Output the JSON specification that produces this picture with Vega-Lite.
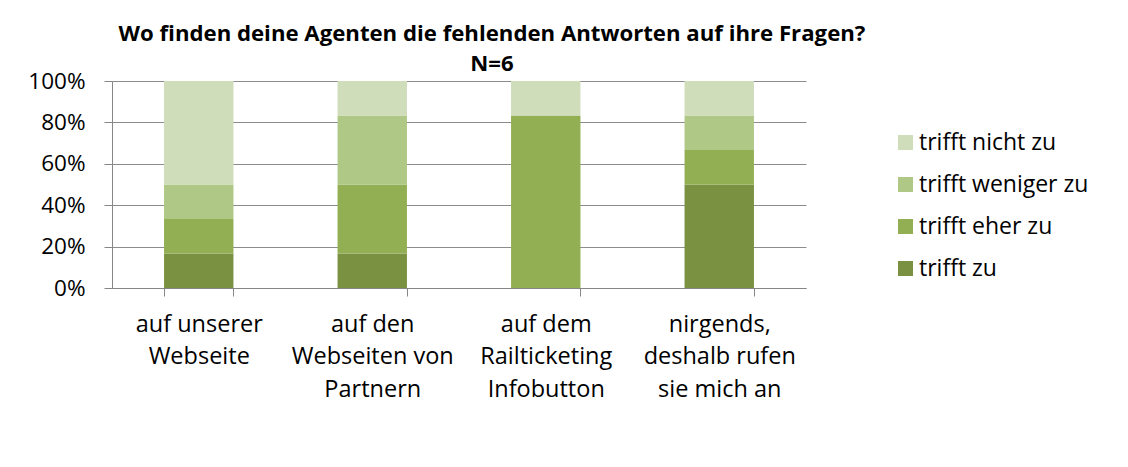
{
  "$schema": "https://vega.github.io/schema/vega-lite/v6.json",
  "width": 694,
  "height": 207,
  "autosize": {"type": "none"},
  "padding": {"left": 112, "top": 81, "right": 322, "bottom": 179},
  "background": "white",
  "title": {
    "text": ["Wo finden deine Agenten die fehlenden Antworten auf ihre Fragen?", "N=6"],
    "anchor": "middle",
    "dx": 33,
    "offset": -5,
    "font": "Open Sans",
    "fontSize": 22.2,
    "fontWeight": "bold",
    "lineHeight": 30,
    "color": "#000000"
  },
  "data": {
    "values": [
      {"kategorie": "auf unserer Webseite", "bewertung": "trifft zu", "stufe": 1, "anzahl": 1},
      {"kategorie": "auf unserer Webseite", "bewertung": "trifft eher zu", "stufe": 2, "anzahl": 1},
      {"kategorie": "auf unserer Webseite", "bewertung": "trifft weniger zu", "stufe": 3, "anzahl": 1},
      {"kategorie": "auf unserer Webseite", "bewertung": "trifft nicht zu", "stufe": 4, "anzahl": 3},
      {"kategorie": "auf den Webseiten von Partnern", "bewertung": "trifft zu", "stufe": 1, "anzahl": 1},
      {"kategorie": "auf den Webseiten von Partnern", "bewertung": "trifft eher zu", "stufe": 2, "anzahl": 2},
      {"kategorie": "auf den Webseiten von Partnern", "bewertung": "trifft weniger zu", "stufe": 3, "anzahl": 2},
      {"kategorie": "auf den Webseiten von Partnern", "bewertung": "trifft nicht zu", "stufe": 4, "anzahl": 1},
      {"kategorie": "auf dem Railticketing Infobutton", "bewertung": "trifft eher zu", "stufe": 2, "anzahl": 5},
      {"kategorie": "auf dem Railticketing Infobutton", "bewertung": "trifft nicht zu", "stufe": 4, "anzahl": 1},
      {"kategorie": "nirgends, deshalb rufen sie mich an", "bewertung": "trifft zu", "stufe": 1, "anzahl": 3},
      {"kategorie": "nirgends, deshalb rufen sie mich an", "bewertung": "trifft eher zu", "stufe": 2, "anzahl": 1},
      {"kategorie": "nirgends, deshalb rufen sie mich an", "bewertung": "trifft weniger zu", "stufe": 3, "anzahl": 1},
      {"kategorie": "nirgends, deshalb rufen sie mich an", "bewertung": "trifft nicht zu", "stufe": 4, "anzahl": 1}
    ]
  },
  "mark": {"type": "bar"},
  "encoding": {
    "x": {
      "field": "kategorie",
      "type": "nominal",
      "sort": ["auf unserer Webseite", "auf den Webseiten von Partnern", "auf dem Railticketing Infobutton", "nirgends, deshalb rufen sie mich an"],
      "scale": {"paddingInner": 0.6, "paddingOuter": 0.3},
      "axis": {
        "title": null,
        "labelAngle": 0,
        "labelFont": "Open Sans",
        "labelFontSize": 23.5,
        "labelColor": "#000000",
        "labelLineHeight": 32.5,
        "labelPadding": 16,
        "labelBaseline": "top",
        "labelExpr": "datum.value == 'auf unserer Webseite' ? ['auf unserer', 'Webseite'] : datum.value == 'auf den Webseiten von Partnern' ? ['auf den', 'Webseiten von', 'Partnern'] : datum.value == 'auf dem Railticketing Infobutton' ? ['auf dem', 'Railticketing', 'Infobutton'] : datum.value == 'nirgends, deshalb rufen sie mich an' ? ['nirgends,', 'deshalb rufen', 'sie mich an'] : ''",
        "tickBand": "extent",
        "tickSize": 8,
        "tickColor": "#868686",
        "domainColor": "#868686",
        "grid": false
      }
    },
    "y": {
      "field": "anzahl",
      "type": "quantitative",
      "stack": "normalize",
      "scale": {"domain": [0, 1]},
      "axis": {
        "title": null,
        "values": [0, 0.2, 0.4, 0.6, 0.8, 1],
        "format": ".0%",
        "labelFont": "Open Sans",
        "labelFontSize": 22.5,
        "labelColor": "#000000",
        "labelPadding": 19,
        "tickSize": 8,
        "tickColor": "#868686",
        "domainColor": "#868686",
        "gridColor": "#8c8c8c",
        "gridWidth": 1
      }
    },
    "color": {
      "field": "bewertung",
      "type": "nominal",
      "scale": {
        "domain": ["trifft nicht zu", "trifft weniger zu", "trifft eher zu", "trifft zu"],
        "range": ["#cfddba", "#afc886", "#93af54", "#7a9142"]
      },
      "legend": {
        "title": null,
        "orient": "none",
        "legendX": 782,
        "legendY": 50,
        "symbolType": "square",
        "symbolSize": 225,
        "symbolStrokeWidth": 0,
        "labelFont": "Open Sans",
        "labelFontSize": 23,
        "labelColor": "#000000",
        "labelOffset": 2,
        "labelLimit": 400,
        "rowPadding": 18,
        "labelExpr": "datum.value == 'trifft nicht zu' ? '\\u00a0\\u00a0trifft nicht zu' : datum.label"
      }
    },
    "order": {"field": "stufe", "type": "quantitative", "sort": "ascending"}
  },
  "config": {"view": {"stroke": null}}
}
